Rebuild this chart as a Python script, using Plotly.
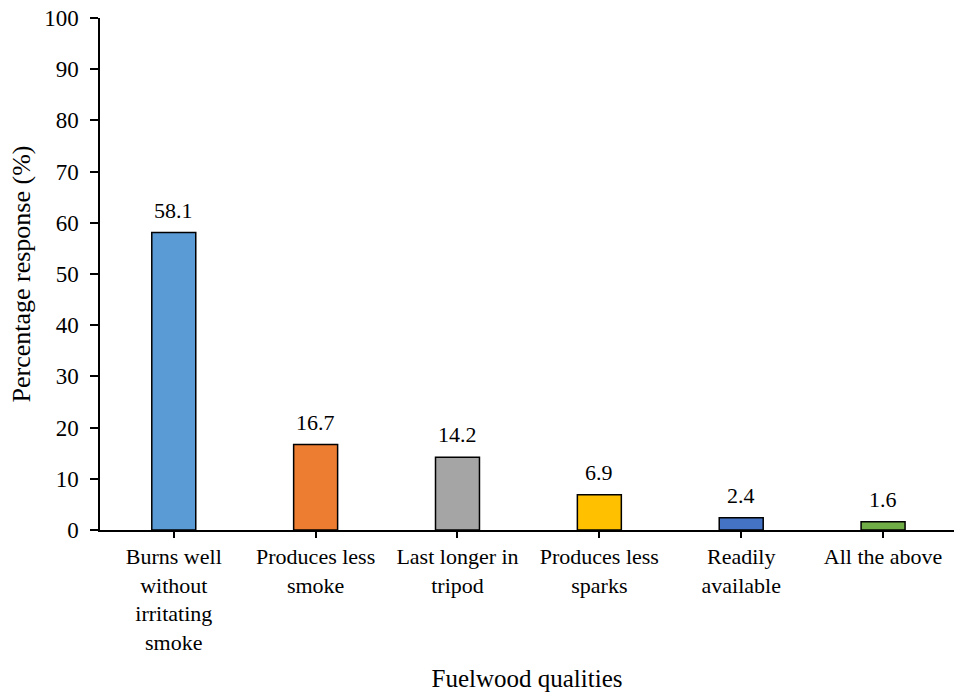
import plotly.graph_objects as go

# Survey results: preferred fuelwood qualities
categories = [
    "Burns well<br>without<br>irritating<br>smoke",
    "Produces less<br>smoke",
    "Last longer in<br>tripod",
    "Produces less<br>sparks",
    "Readily<br>available",
    "All the above",
]
responses = [58.1, 16.7, 14.2, 6.9, 2.4, 1.6]
bar_colors = ["#5B9BD5", "#ED7D31", "#A5A5A5", "#FFC000", "#4472C4", "#70AD47"]
y_ticks = list(range(0, 101, 10))

serif = "Times New Roman"
x_pos = list(range(len(categories)))

fig = go.Figure(
    go.Bar(
        x=x_pos,
        y=responses,
        width=0.31,
        marker=dict(color=bar_colors, line=dict(color="black", width=1.5)),
        cliponaxis=False,
    )
)

# value labels above each bar
for xi, v in zip(x_pos, responses):
    fig.add_annotation(
        x=xi, y=v, text=f"{v:.1f}", showarrow=False,
        yanchor="bottom", yshift=8,
        font=dict(family=serif, size=22, color="black"),
    )

fig.update_layout(
    width=955,
    height=693,
    margin=dict(l=100, r=1, t=18, b=163),
    paper_bgcolor="white",
    plot_bgcolor="white",
    showlegend=False,
    font=dict(family=serif, size=23, color="black"),
)

fig.update_xaxes(
    tickmode="array",
    tickvals=x_pos,
    ticktext=categories,
    range=[-0.52, 5.5],
    showline=True,
    linecolor="black",
    linewidth=1.5,
    ticks="outside",
    ticklen=6,
    tickwidth=1.5,
    tickcolor="black",
    tickangle=0,
    tickfont=dict(family=serif, size=22),
    title=dict(text="Fuelwood qualities", font=dict(family=serif, size=25), standoff=16),
    showgrid=False,
)

fig.update_yaxes(
    range=[0, 100],
    tickmode="array",
    tickvals=y_ticks,
    showline=True,
    linecolor="black",
    linewidth=1.5,
    ticks="outside",
    ticklen=8,
    tickwidth=1.5,
    tickcolor="black",
    ticklabelstandoff=7,
    tickfont=dict(family=serif, size=23),
    title=dict(text="Percentage response (%)", font=dict(family=serif, size=26), standoff=6),
    showgrid=False,
    zeroline=False,
)

fig.write_html("out.html")
